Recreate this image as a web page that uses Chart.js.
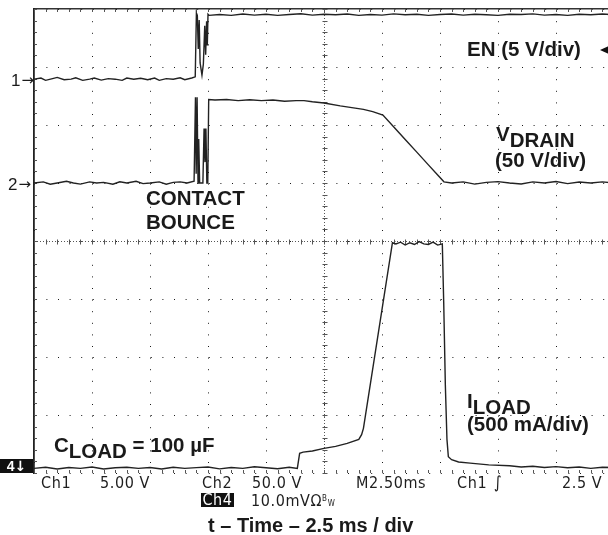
<!DOCTYPE html>
<html>
<head>
<meta charset="utf-8">
<script src="https://cdn.jsdelivr.net/npm/chart.js@4"></script>
<style>
  html, body { margin: 0; padding: 0; background: #fff; }
  body { width: 608px; height: 535px; overflow: hidden; position: relative; font-family: "Liberation Sans", Arial, sans-serif; }
  #wrap { position: absolute; left: 0; top: 0; width: 620px; height: 478px; }
  .lbl { position: absolute; font-weight: bold; font-size: 20.5px; line-height: 1; color: #1a1a1a; white-space: nowrap; }
  .sub { position: relative; top: 6px; }
  .mark { position: absolute; font-size: 17px; line-height: 1; color: #1a1a1a; white-space: nowrap; }
  .arr { font-family: "DejaVu Sans", sans-serif; font-size: 15px; position: relative; top: -1px; margin-left: 1px; }
  .st { position: absolute; font-family: "DejaVu Sans Condensed", "Liberation Sans Narrow", sans-serif; font-size: 16px; letter-spacing: 0.6px; line-height: 1; color: #1e1e1e; white-space: nowrap; }
  .inv { background: #111; color: #fff; font-weight: bold; text-align: center; }
  #trig { position: absolute; left: 600px; top: 45px; width: 0; height: 0;
          border-right: 11px solid #111; border-top: 5px solid transparent; border-bottom: 5px solid transparent; }
</style>
</head>
<body>
<div id="wrap"><canvas id="scope" width="620" height="478"></canvas></div>

<div class="mark" style="left:11px;top:72px">1<span class="arr">→</span></div>
<div class="mark" style="left:8px;top:176px">2<span class="arr">→</span></div>
<div class="mark inv" style="left:0;top:459px;width:33px;height:14px;font-size:14px;line-height:14px">4<span style="font-family:'DejaVu Sans',sans-serif">↓</span></div>

<div class="lbl" style="left:467px;top:39px">EN (5 V/div)</div>
<div id="trig"></div>
<div class="lbl" style="left:496px;top:124px">V<span class="sub">DRAIN</span></div>
<div class="lbl" style="left:495px;top:150px">(50 V/div)</div>
<div class="lbl" style="left:146px;top:188px">CONTACT</div>
<div class="lbl" style="left:146px;top:212px">BOUNCE</div>
<div class="lbl" style="left:467px;top:391px">I<span class="sub">LOAD</span></div>
<div class="lbl" style="left:467px;top:414px">(500 mA/div)</div>
<div class="lbl" style="left:54px;top:435px">C<span class="sub">LOAD</span> = 100 µF</div>

<div class="st" style="left:41px;top:475px">Ch1</div>
<div class="st" style="left:100px;top:475px">5.00 V</div>
<div class="st" style="left:202px;top:475px">Ch2</div>
<div class="st" style="left:252px;top:475px">50.0 V</div>
<div class="st" style="left:356px;top:475px">M2.50ms</div>
<div class="st" style="left:457px;top:475px">Ch1</div>
<div class="st" style="left:494px;top:474px;font-style:italic;font-size:17px">∫</div>
<div class="st" style="left:562px;top:475px">2.5 V</div>
<div class="st inv" style="left:201px;top:493px;width:33px;height:14px;line-height:14px;font-weight:normal">Ch4</div>
<div class="st" style="left:251px;top:493px">10.0mVΩ<span style="font-size:8px;vertical-align:5px">B</span><span style="font-size:8px">W</span></div>

<div class="lbl" style="left:208px;top:515px;font-size:20px">t – Time – 2.5 ms / div</div>

<script>
// time base: 2.5 ms/div, 10 divisions
const timeDivs = 10;
const msPerDiv = 2.5;
const vertDivs = 8;

// Ch1: EN, 5 V/div, ground marker 6.8 div above bottom
const enScale = 5;
const enPos = 6.79;
const enTime = [0, 0.3, 0.5, 0.8, 1.0, 1.3, 1.6, 1.8, 2.1, 2.4, 2.6, 2.9, 3.2, 3.5, 3.8, 4.0, 4.3, 4.6, 4.9, 5.2, 5.4, 5.7, 6.0, 6.3, 6.5, 6.8, 6.95,
  7.0, 7.04, 7.08, 7.12, 7.16, 7.24, 7.30, 7.36, 7.40, 7.44, 7.47, 7.50, 7.55,
  8.0, 8.5, 9.0, 9.5, 10.0, 10.5, 11.0, 11.5, 12.0, 12.5, 13.0, 13.5, 14.0, 14.5, 15.0, 15.5, 16.0, 16.5,
  17.0, 17.5, 18.0, 18.5, 19.0, 19.5, 20.0, 20.5, 21.0, 21.5, 22.0, 22.5, 23.0, 23.5, 24.0, 24.5, 25.0];
const enVolts = [0, 0.1, -0.1, 0.05, 0.15, -0.05, 0, 0.12, -0.1, 0, 0.1, -0.08, 0.05, 0, -0.1, 0.1, 0, 0.08, -0.05, 0.1, -0.1, 0.05, 0, 0.12, -0.05, 0.1, 0.2,
  5.7, 5.5, 2.6, 5.1, 1.4, 0.35, 1.3, 4.6, 2.1, 5.0, 2.9, 5.6, 5.5,
  5.58, 5.5, 5.62, 5.52, 5.6, 5.5, 5.58, 5.64, 5.52, 5.6, 5.55, 5.62, 5.5, 5.58, 5.52, 5.63, 5.55, 5.6,
  5.5, 5.58, 5.62, 5.52, 5.6, 5.55, 5.5, 5.6, 5.57, 5.63, 5.52, 5.58, 5.5, 5.6, 5.55, 5.62, 5.56];

// Ch2: VDRAIN, 50 V/div, ground marker 5 div above bottom
const drainScale = 50;
const drainPos = 5.0;
const drainTime = [0, 0.4, 0.7, 1.0, 1.4, 1.7, 2.0, 2.4, 2.7, 3.0, 3.4, 3.7, 4.0, 4.4, 4.7, 5.0, 5.4, 5.7, 6.0, 6.3, 6.6, 6.9,
  6.96, 6.99, 7.03, 7.07, 7.10, 7.14, 7.20, 7.28, 7.33, 7.37, 7.41, 7.45, 7.49, 7.53,
  7.8, 8.3, 8.8, 9.3, 9.8, 10.3, 10.8, 11.3, 11.64, 12.0, 12.5, 13.2, 13.7, 14.2, 14.6, 15.04, 15.5, 16.0, 16.5, 17.0, 17.4, 17.67,
  18.0, 18.5, 19.0, 19.5, 20.0, 20.5, 21.0, 21.5, 22.0, 22.5, 23.0, 23.5, 24.0, 24.5, 25.0];
const drainVolts = [0, 1, -1, 0, 1.5, 0, -1, 1, 0, 0.5, -1, 1, 0, 1.5, -0.5, 0, 1, -1, 0.5, 1, 0, 1.5,
  74, 8, 74, 0, 38, 0, 0, 0, 47, 18, 47, 0, 0, 72,
  71.5, 72, 71, 71.8, 71, 71.5, 70.5, 71, 71, 70, 69, 66.5, 65, 63.5, 61.5, 58.5, 48.5, 37.5, 26.6, 15.6, 6.9, 1,
  0, 1, -1, 0.5, 1.2, 0, -0.8, 1, 0, 1.3, -0.5, 0.8, 0, 1, 0];

// Ch4: ILOAD, 500 mA/div, ground marker just above bottom
const loadScale = 500;
const loadPos = 0.08;
const loadTime = [0, 0.5, 1.0, 1.5, 2.0, 2.5, 3.0, 3.5, 4.0, 4.5, 5.0, 5.5, 6.0, 6.5, 7.0, 7.5, 8.0, 8.5, 9.0, 9.5, 10.0, 10.5, 11.0, 11.35,
  11.45, 11.6, 12.0, 12.5, 13.0, 13.5, 14.0, 14.12, 14.2,
  15.45, 15.6, 15.8, 16.0, 16.2, 16.4, 16.6, 16.8, 17.0, 17.2, 17.4, 17.6,
  17.66, 17.73, 17.8, 17.86, 18.0, 18.3, 18.8, 19.6, 20.5, 21.0, 21.5, 22.0, 22.5, 23.0, 23.5, 24.0, 24.5, 25.0];
const loadMilliamps = [0, 10, -5, 8, 0, 12, -5, 5, 10, 0, 8, -6, 10, 0, 6, 12, -4, 8, 0, 14, 5, -3, 10, 0,
  130, 140, 150, 172, 190, 215, 250, 290, 345,
  1945, 1935, 1950, 1925, 1945, 1930, 1955, 1935, 1930, 1950, 1925, 1935,
  1430, 720, 250, 100, 75, 55, 45, 30, 22, 12, 18, 8, 15, 5, 12, 0, 10, 8];

function points(ts, vs) {
  return ts.map((t, i) => ({ x: t, y: vs[i] }));
}

function channelAxis(scale, pos) {
  return { display: false, min: -pos * scale, max: (vertDivs - pos) * scale };
}

const traceColor = '#222';
const dotColor = '#1a1a1a';

// fine graticule: dense centre lines and fifth-division ticks
const graticule = {
  id: 'graticule',
  beforeDatasetsDraw(chart) {
    const { ctx, chartArea: a, scales } = chart;
    const x = scales.x, d = scales.div;
    const cx = Math.round(x.getPixelForValue(timeDivs * msPerDiv / 2)) + 0.5;
    const cy = Math.round(d.getPixelForValue(vertDivs / 2)) + 0.5;
    ctx.save();
    ctx.strokeStyle = '#555';
    ctx.lineWidth = 1;
    ctx.setLineDash([1, 2]);
    ctx.beginPath();
    ctx.moveTo(cx, a.top); ctx.lineTo(cx, a.bottom);
    ctx.moveTo(a.left, cy); ctx.lineTo(a.right, cy);
    ctx.stroke();
    ctx.setLineDash([]);
    ctx.beginPath();
    for (let i = 0; i <= timeDivs * 5; i++) {
      const px = Math.round(x.getPixelForValue(i * msPerDiv / 5)) + 0.5;
      ctx.moveTo(px, cy - 2); ctx.lineTo(px, cy + 3);
      ctx.moveTo(px, a.top); ctx.lineTo(px, a.top + 3);
      ctx.moveTo(px, a.bottom); ctx.lineTo(px, a.bottom - 3);
    }
    for (let i = 0; i <= vertDivs * 5; i++) {
      const py = Math.round(d.getPixelForValue(i / 5)) + 0.5;
      ctx.moveTo(cx - 2, py); ctx.lineTo(cx + 3, py);
      ctx.moveTo(a.left, py); ctx.lineTo(a.left + 3, py);
    }
    ctx.stroke();
    ctx.restore();
  }
};

const trace = (label, ts, vs, axis) => ({
  label: label,
  data: points(ts, vs),
  yAxisID: axis,
  borderColor: traceColor,
  borderWidth: 1.4,
  pointRadius: 0,
  tension: 0,
  fill: false
});

new Chart(document.getElementById('scope'), {
  type: 'line',
  data: {
    datasets: [
      trace('EN', enTime, enVolts, 'yEn'),
      trace('VDRAIN', drainTime, drainVolts, 'yDrain'),
      trace('ILOAD', loadTime, loadMilliamps, 'yLoad')
    ]
  },
  options: {
    responsive: false,
    animation: false,
    events: [],
    layout: { padding: { left: 34, top: 9, right: 6, bottom: 5 } },
    plugins: { legend: { display: false }, tooltip: { enabled: false } },
    scales: {
      x: {
        type: 'linear',
        position: 'top',
        min: 0,
        max: timeDivs * msPerDiv,
        ticks: { display: false, stepSize: msPerDiv },
        grid: { color: dotColor, lineWidth: 1, drawTicks: false },
        border: { display: true, color: '#333', width: 1.6, dash: [1, 10.6] },
        afterFit: s => { s.height = 0; }
      },
      div: {
        type: 'linear',
        position: 'left',
        min: 0,
        max: vertDivs,
        ticks: { display: false, stepSize: 1 },
        grid: { color: dotColor, lineWidth: 1, drawTicks: false },
        border: { display: true, color: '#222', width: 1.8, dash: [1, 10.6] },
        afterFit: s => { s.width = 0; }
      },
      yEn: channelAxis(enScale, enPos),
      yDrain: channelAxis(drainScale, drainPos),
      yLoad: channelAxis(loadScale, loadPos)
    }
  },
  plugins: [graticule]
});
</script>
</body>
</html>
